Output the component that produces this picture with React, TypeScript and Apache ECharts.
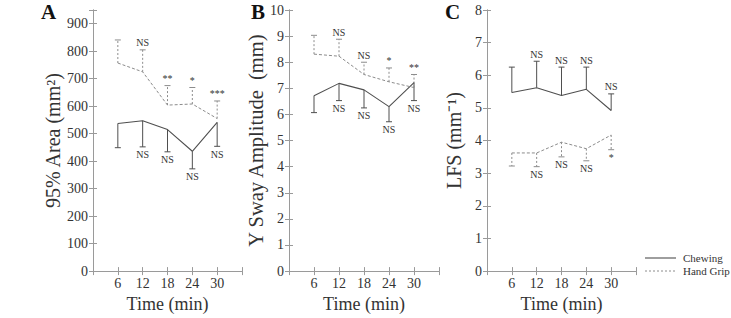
import React, { useEffect, useRef } from "react";
import * as echarts from "echarts";

const timePoints = [6, 12, 18, 24, 30];

const areaChewing = [537, 547, 515, 436, 541];
const areaChewingErr = [449, 452, 434, 372, 454];
const areaGrip = [757, 725, 604, 608, 555];
const areaGripErr = [841, 805, 675, 668, 619];
const areaChewingSig = ["", "NS", "NS", "NS", "NS"];
const areaGripSig = ["", "NS", "**", "*", "***"];

const swayChewing = [6.72, 7.19, 6.94, 6.3, 7.22];
const swayChewingErr = [6.07, 6.53, 6.25, 5.72, 6.53];
const swayGrip = [8.31, 8.23, 7.53, 7.25, 7.03];
const swayGripErr = [9.03, 8.88, 8.0, 7.78, 7.53];
const swayChewingSig = ["", "NS", "NS", "NS", "NS"];
const swayGripSig = ["", "NS", "NS", "*", "**"];

const lfsChewing = [5.47, 5.62, 5.38, 5.57, 4.92];
const lfsChewingErr = [6.25, 6.43, 6.25, 6.25, 5.43];
const lfsGrip = [3.62, 3.62, 3.95, 3.75, 4.17];
const lfsGripErr = [3.22, 3.2, 3.5, 3.38, 3.72];
const lfsChewingSig = ["", "NS", "NS", "NS", "NS"];
const lfsGripSig = ["", "NS", "NS", "NS", "*"];

const legendNames = ["Chewing", "Hand Grip"];

const FONT = "'Liberation Serif', 'Times New Roman', serif";
const AXIS_COLOR = "#9a9a9a";
const TEXT_COLOR = "#333";
const CHEW_COLOR = "#4f4f4f";
const GRIP_COLOR = "#8c8c8c";

type Panel = {
  letter: string;
  yName: string;
  yMax: number;
  yInterval: number;
  nameGap: number;
  nameSize: number;
  chew: number[];
  chewErr: number[];
  chewSig: string[];
  grip: number[];
  gripErr: number[];
  gripSig: string[];
};

const panels: Panel[] = [
  {
    letter: "A",
    yName: "95% Area (mm²)",
    yMax: 950,
    yInterval: 100,
    nameGap: 27,
    nameSize: 20,
    chew: areaChewing,
    chewErr: areaChewingErr,
    chewSig: areaChewingSig,
    grip: areaGrip,
    gripErr: areaGripErr,
    gripSig: areaGripSig,
  },
  {
    letter: "B",
    yName: "Y Sway Amplitude  (mm)",
    yMax: 10,
    yInterval: 1,
    nameGap: 17,
    nameSize: 20.5,
    chew: swayChewing,
    chewErr: swayChewingErr,
    chewSig: swayChewingSig,
    grip: swayGrip,
    gripErr: swayGripErr,
    gripSig: swayGripSig,
  },
  {
    letter: "C",
    yName: "LFS (mm⁻¹)",
    yMax: 8,
    yInterval: 1,
    nameGap: 23,
    nameSize: 20,
    chew: lfsChewing,
    chewErr: lfsChewingErr,
    chewSig: lfsChewingSig,
    grip: lfsGrip,
    gripErr: lfsGripErr,
    gripSig: lfsGripSig,
  },
];

const gridLefts = [93, 289, 487];
const gridWidths = [149, 150, 149];
const letterX = [41, 251, 445];

function errRenderer(color: string, dashed: boolean, labels: string[]) {
  return (params: any, api: any) => {
    const x = api.value(0);
    const m = api.value(1);
    const e = api.value(2);
    const p0 = api.coord([x, m]);
    const p1 = api.coord([x, e]);
    const up = p1[1] < p0[1];
    const lineStyle: any = { stroke: color, lineWidth: 1 };
    if (dashed) lineStyle.lineDash = [2, 2];
    return {
      type: "group",
      children: [
        {
          type: "line",
          shape: { x1: p0[0], y1: p0[1], x2: p1[0], y2: p1[1] },
          style: lineStyle,
        },
        {
          type: "line",
          shape: { x1: p1[0] - 3, y1: p1[1], x2: p1[0] + 3, y2: p1[1] },
          style: { stroke: color, lineWidth: 1 },
        },
        {
          type: "text",
          x: p1[0],
          y: up ? p1[1] - 2 : p1[1] + 3,
          style: {
            text: labels[params.dataIndex],
            fill: TEXT_COLOR,
            fontFamily: FONT,
            fontSize: 10,
            align: "center",
            verticalAlign: up ? "bottom" : "top",
          },
        },
      ],
    };
  };
}

function buildOption() {
  const grid: any[] = [];
  const xAxis: any[] = [];
  const yAxis: any[] = [];
  const series: any[] = [];
  const graphic: any[] = [];

  panels.forEach((p, i) => {
    grid.push({ left: gridLefts[i], top: 10, width: gridWidths[i], height: 267 });
    const axisLine = { show: true, lineStyle: { color: AXIS_COLOR, width: 1 } };
    const axisTick = { show: true, inside: true, length: 4, lineStyle: { color: AXIS_COLOR } };
    xAxis.push({
      type: "value",
      gridIndex: i,
      position: "bottom",
      min: 0,
      max: 36,
      interval: 6,
      axisLine,
      axisTick,
      splitLine: { show: false },
      axisLabel: {
        color: TEXT_COLOR,
        fontFamily: FONT,
        fontSize: 14,
        margin: 5,
        formatter: (v: number) => (v === 0 || v === 36 ? "" : String(v)),
      },
      name: "Time (min)",
      nameLocation: "middle",
      nameGap: 19,
      nameTextStyle: { color: TEXT_COLOR, fontFamily: FONT, fontSize: 18 },
    });
    xAxis.push({
      type: "value",
      gridIndex: i,
      position: "top",
      min: 0,
      max: 36,
      interval: 6,
      axisLine,
      axisTick,
      splitLine: { show: false },
      axisLabel: { show: false },
    });
    yAxis.push({
      type: "value",
      gridIndex: i,
      position: "left",
      min: 0,
      max: p.yMax,
      interval: p.yInterval,
      axisLine,
      axisTick,
      splitLine: { show: false },
      axisLabel: {
        color: TEXT_COLOR,
        fontFamily: FONT,
        fontSize: 14,
        margin: 5,
        formatter: (v: number) => (p.yMax === 950 && v > 900 ? "" : String(v)),
      },
      name: p.yName,
      nameLocation: "middle",
      nameGap: p.nameGap,
      nameTextStyle: { color: TEXT_COLOR, fontFamily: FONT, fontSize: p.nameSize },
    });
    yAxis.push({
      type: "value",
      gridIndex: i,
      position: "right",
      min: 0,
      max: p.yMax,
      interval: p.yInterval,
      axisLine,
      axisTick,
      splitLine: { show: false },
      axisLabel: { show: false },
    });

    const xi = i * 2;
    const yi = i * 2;
    series.push({
      name: legendNames[0],
      type: "line",
      xAxisIndex: xi,
      yAxisIndex: yi,
      symbol: "none",
      lineStyle: { color: CHEW_COLOR, width: 1.1 },
      itemStyle: { color: CHEW_COLOR },
      data: timePoints.map((t, k) => [t, p.chew[k]]),
    });
    series.push({
      name: legendNames[1],
      type: "line",
      xAxisIndex: xi,
      yAxisIndex: yi,
      symbol: "none",
      lineStyle: { color: GRIP_COLOR, width: 1, type: [3, 2] },
      itemStyle: { color: GRIP_COLOR },
      data: timePoints.map((t, k) => [t, p.grip[k]]),
    });
    series.push({
      type: "custom",
      xAxisIndex: xi,
      yAxisIndex: yi,
      encode: { x: 0, y: [1, 2] },
      renderItem: errRenderer(CHEW_COLOR, false, p.chewSig),
      data: timePoints.map((t, k) => [t, p.chew[k], p.chewErr[k]]),
    });
    series.push({
      type: "custom",
      xAxisIndex: xi,
      yAxisIndex: yi,
      encode: { x: 0, y: [1, 2] },
      renderItem: errRenderer(GRIP_COLOR, true, p.gripSig),
      data: timePoints.map((t, k) => [t, p.grip[k], p.gripErr[k]]),
    });

    graphic.push({
      type: "text",
      left: letterX[i],
      top: 1,
      style: {
        text: p.letter,
        fill: "#111",
        fontFamily: FONT,
        fontSize: 21,
        fontWeight: "bold",
      },
    });
  });

  // legend drawn as graphic elements
  const legendStyles = [
    { stroke: CHEW_COLOR, lineWidth: 1.1 },
    { stroke: GRIP_COLOR, lineWidth: 1, lineDash: [2, 2] },
  ];
  legendNames.forEach((name, k) => {
    const y = 258 + k * 13;
    graphic.push({
      type: "line",
      shape: { x1: 645, y1: y, x2: 676, y2: y },
      style: legendStyles[k],
    });
    graphic.push({
      type: "text",
      x: 683,
      y: y,
      style: {
        text: name,
        fill: TEXT_COLOR,
        fontFamily: FONT,
        fontSize: 11,
        verticalAlign: "middle",
        align: "left",
      },
    });
  });

  return {
    animation: false,
    backgroundColor: "#fff",
    grid,
    xAxis,
    yAxis,
    series,
    graphic,
  };
}

export default function App() {
  const ref = useRef<HTMLDivElement>(null);
  useEffect(() => {
    if (!ref.current) return;
    const chart = echarts.init(ref.current, null, { renderer: "svg" });
    chart.setOption(buildOption() as any);
    return () => chart.dispose();
  }, []);
  return (
    <div
      ref={ref}
      style={{ position: "fixed", left: 0, top: 0, width: 731, height: 318, background: "#fff" }}
    />
  );
}
